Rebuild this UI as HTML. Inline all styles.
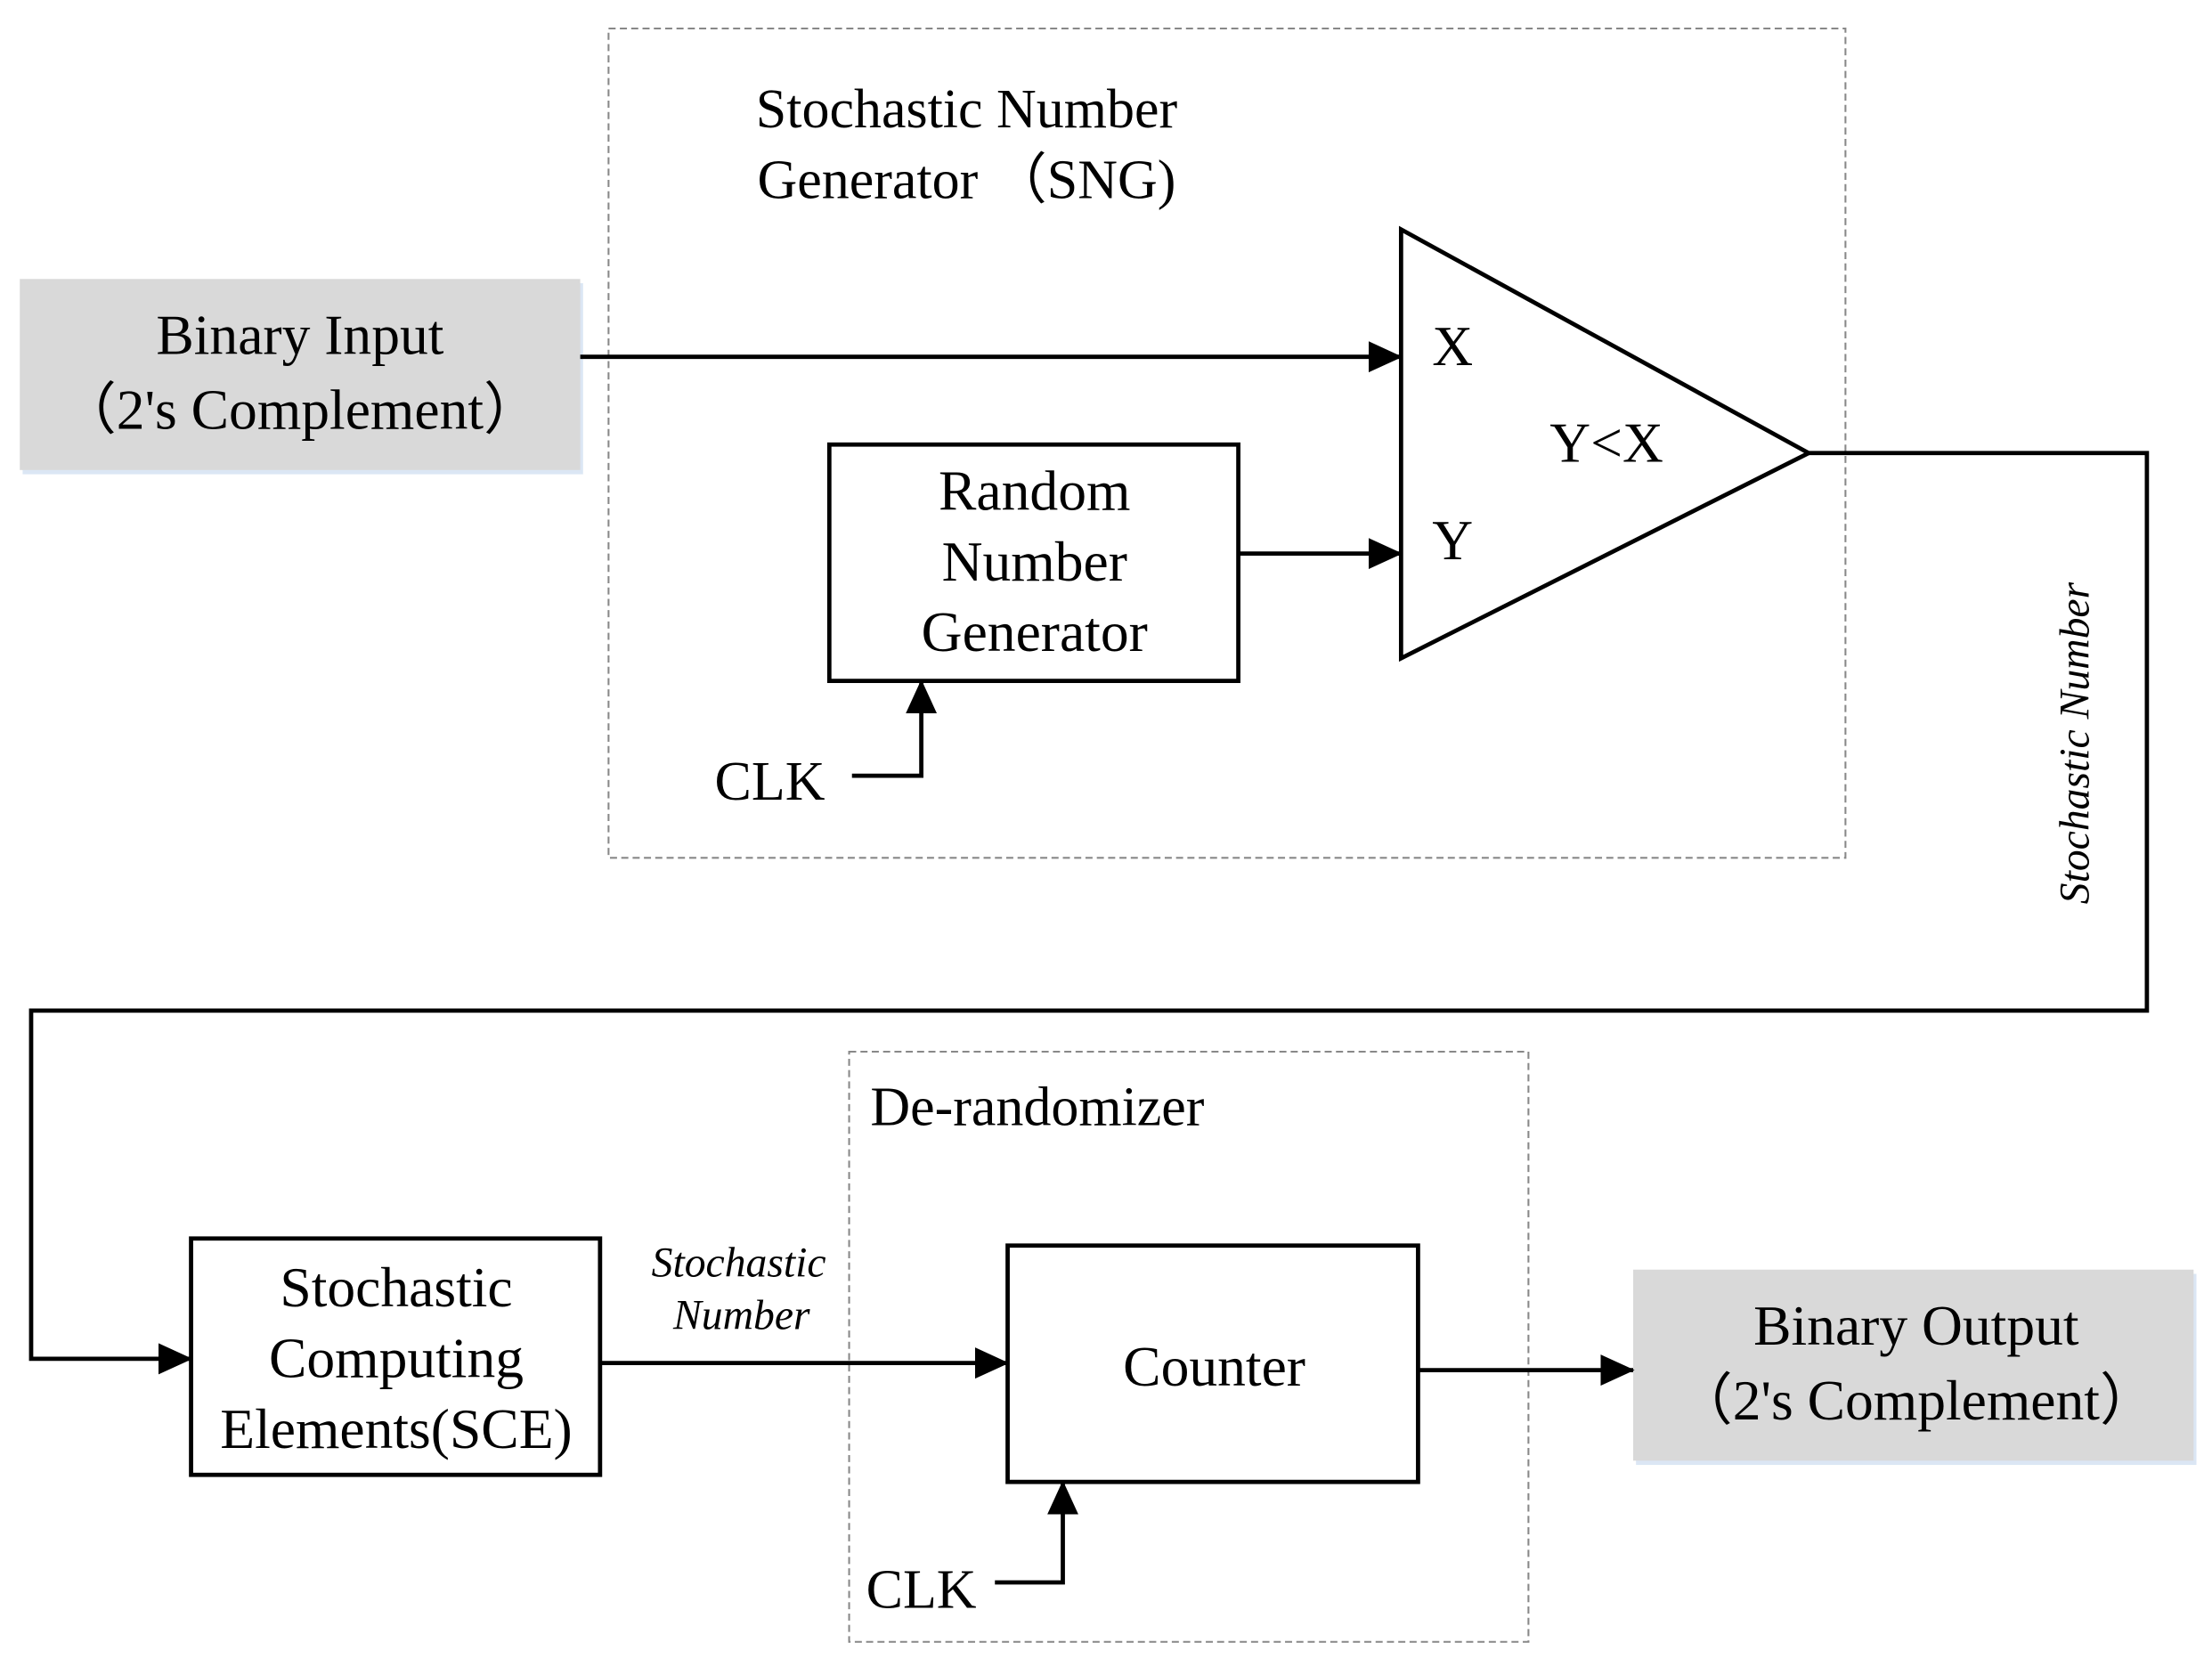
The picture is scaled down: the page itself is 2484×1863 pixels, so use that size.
<!DOCTYPE html>
<html><head><meta charset="utf-8"><style>
html,body{margin:0;padding:0;background:#fff}
svg{display:block}
text{font-family:"Liberation Serif",serif;fill:#000}
</style></head><body>
<svg width="2484" height="1863" viewBox="0 0 1563 1172" xmlns="http://www.w3.org/2000/svg">
<defs>
<marker id="b" markerWidth="24" markerHeight="22" refX="23" refY="11" orient="auto" markerUnits="userSpaceOnUse">
<path d="M0,0 L24,11 L0,22 z" fill="#000"/></marker>
</defs>
<rect width="1563" height="1172" fill="#fff"/>
<rect x="430" y="20" width="874" height="586" fill="none" stroke="#888" stroke-width="1.3" stroke-dasharray="5,3"/>
<rect x="600" y="743" width="480" height="417" fill="none" stroke="#888" stroke-width="1.3" stroke-dasharray="5,3"/>
<rect x="16" y="200" width="396" height="135" fill="#dbe6f4"/>
<rect x="14" y="197" width="396" height="135" fill="#d9d9d9"/>
<rect x="1156" y="900" width="396" height="135" fill="#dbe6f4"/>
<rect x="1154" y="897" width="396" height="135" fill="#d9d9d9"/>
<g font-size="40" text-anchor="middle">
<text x="212" y="250">Binary Input</text>
<text x="212" y="303">（2's Complement）</text>
<text x="1354" y="950">Binary Output</text>
<text x="1354" y="1003">（2's Complement）</text>
</g>
<g font-size="39" text-anchor="middle">
<text x="683" y="90">Stochastic Number</text>
<text x="683" y="140">Generator （SNG)</text>
</g>
<polygon points="990,162 990,465 1278,320" fill="#fff" stroke="#000" stroke-width="3"/>
<g font-size="40">
<text x="1012" y="258">X</text>
<text x="1012" y="395">Y</text>
<text x="1095" y="326">Y&lt;X</text>
</g>
<rect x="586" y="314" width="289" height="167" fill="#fff" stroke="#000" stroke-width="3"/>
<g font-size="40" text-anchor="middle">
<text x="731" y="360">Random</text>
<text x="731" y="410">Number</text>
<text x="731" y="460">Generator</text>
</g>
<rect x="135" y="875" width="289" height="167" fill="#fff" stroke="#000" stroke-width="3"/>
<g font-size="40" text-anchor="middle">
<text x="280" y="923">Stochastic</text>
<text x="280" y="973">Computing</text>
<text x="280" y="1023">Elements(SCE)</text>
</g>
<rect x="712" y="880" width="290" height="167" fill="#fff" stroke="#000" stroke-width="3"/>
<text x="858" y="979" font-size="40" text-anchor="middle">Counter</text>
<text x="615" y="795" font-size="39">De-randomizer</text>
<g font-size="39">
<text x="505" y="565">CLK</text>
<text x="612" y="1136">CLK</text>
</g>
<g font-size="30" font-style="italic" text-anchor="middle">
<text x="522" y="902">Stochastic</text>
<text x="524" y="939">Number</text>
<text transform="translate(1476,525) rotate(-90)">Stochastic  Number</text>
</g>
<g fill="none" stroke="#000" stroke-width="3">
<line x1="410" y1="252" x2="990" y2="252" marker-end="url(#b)"/>
<line x1="875" y1="391" x2="990" y2="391" marker-end="url(#b)"/>
<polyline points="602,548 651,548 651,481" marker-end="url(#b)"/>
<polyline points="1278,320 1517,320 1517,714 22,714 22,960 135,960" marker-end="url(#b)"/>
<line x1="424" y1="963" x2="712" y2="963" marker-end="url(#b)"/>
<polyline points="703,1118 751,1118 751,1047" marker-end="url(#b)"/>
<line x1="1002" y1="968" x2="1154" y2="968" marker-end="url(#b)"/>
</g>
</svg>
</body></html>
